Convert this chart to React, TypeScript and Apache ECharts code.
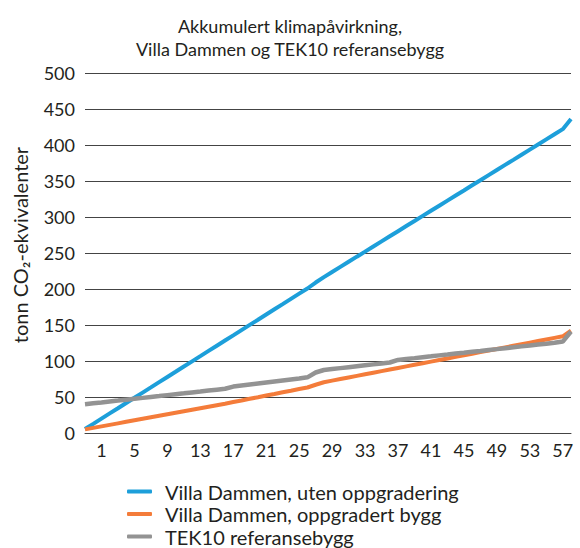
import React, { useEffect, useRef } from "react";
import * as echarts from "echarts";

const years = [-1, 0, 1, 2, 3, 4, 5, 6, 7, 8, 9, 10, 11, 12, 13, 14, 15, 16, 17, 18, 19, 20, 21, 22, 23, 24, 25, 26, 27, 28, 29, 30, 31, 32, 33, 34, 35, 36, 37, 38, 39, 40, 41, 42, 43, 44, 45, 46, 47, 48, 49, 50, 51, 52, 53, 54, 55, 56, 57, 58];

const utenOppgradering = [5.5, 12.7, 20, 27.2, 34.4, 41.7, 48.9, 56.1, 63.3, 70.6, 77.8, 85, 92.3, 99.5, 106.7, 114, 121.2, 128.4, 135.6, 142.9, 150.1, 157.3, 164.6, 171.8, 179, 186.3, 193.5, 200.7, 209, 216.5, 223.6, 230.7, 237.8, 244.9, 251.9, 259, 266.1, 273.2, 280.3, 287.4, 294.4, 301.5, 308.6, 315.7, 322.8, 329.9, 336.9, 344, 351.1, 358.2, 365.3, 372.4, 379.4, 386.5, 393.6, 400.7, 407.8, 414.9, 422, 436];

const oppgradertBygg = [5, 7.1, 9.2, 11.3, 13.4, 15.5, 17.6, 19.7, 21.8, 23.9, 26, 28.1, 30.2, 32.3, 34.4, 36.5, 38.6, 40.7, 43, 45.2, 47.5, 49.7, 52, 54.2, 56.5, 58.7, 61, 63.2, 67, 70.5, 72.7, 74.9, 77.1, 79.3, 81.5, 83.7, 85.9, 88.1, 90.3, 92.5, 94.7, 96.9, 99.1, 101.3, 103.5, 105.7, 107.9, 110.1, 112.3, 114.5, 116.7, 118.9, 121.1, 123.3, 125.5, 127.7, 129.9, 132.1, 134.3, 142];

const tek10 = [40, 41.3, 42.5, 43.8, 45, 46.3, 47.6, 48.8, 50.1, 51.3, 52.6, 53.9, 55.1, 56.4, 57.6, 58.9, 60.2, 61.4, 64.5, 65.9, 67.3, 68.7, 70.1, 71.5, 72.9, 74.3, 75.7, 77.3, 84, 87.5, 88.8, 90.1, 91.4, 92.7, 94, 95.3, 96.6, 97.9, 101.5, 102.8, 104, 105.3, 106.5, 107.8, 109, 110.3, 111.5, 112.8, 114, 115.3, 116.5, 117.8, 119, 120.3, 121.5, 122.8, 124, 125.3, 127, 141];

const seriesNames = [
  "Villa Dammen, uten oppgradering",
  "Villa Dammen, oppgradert bygg",
  "TEK10 referansebygg",
];
const colors = ["#1d9fda", "#f47c3a", "#939393"];

const FONT = "Lato";
const TEXT = "#231f20";

export default function App() {
  const ref = useRef<HTMLDivElement>(null);
  useEffect(() => {
    if (!ref.current) return;
    const chart = echarts.init(ref.current, undefined, { renderer: "svg" });
    chart.setOption({
      animation: false,
      backgroundColor: "#ffffff",
      textStyle: { fontFamily: FONT },
      title: {
        text: "Akkumulert klimapåvirkning,\nVilla Dammen og TEK10 referansebygg",
        left: "center",
        top: 9,
        textStyle: {
          fontFamily: FONT,
          fontSize: 18,
          fontWeight: "normal",
          color: TEXT,
          lineHeight: 23,
        },
      },
      grid: { left: 85, right: 9, top: 73, bottom: 115 },
      legend: {
        orient: "vertical",
        left: 127,
        top: 481,
        padding: 0,
        icon: "roundRect",
        itemWidth: 25,
        itemHeight: 4,
        itemGap: 1.5,
        data: seriesNames,
        textStyle: {
          fontFamily: FONT,
          fontSize: 20,
          color: TEXT,
          lineHeight: 21,
          padding: [0, 0, 0, 8],
        },
      },
      xAxis: {
        type: "category",
        data: years,
        boundaryGap: false,
        axisLine: { show: true, lineStyle: { color: "#444", width: 1 } },
        axisTick: { show: false },
        axisLabel: {
          interval: (index: number) => index % 4 === 2,
          fontFamily: FONT,
          fontSize: 18,
          color: TEXT,
          margin: 8,
        },
        splitLine: { show: false },
      },
      yAxis: {
        type: "value",
        min: 0,
        max: 500,
        interval: 50,
        name: "tonn CO₂-ekvivalenter",
        nameLocation: "middle",
        nameGap: 55,
        nameTextStyle: {
          fontFamily: FONT,
          fontSize: 20,
          color: TEXT,
          padding: [0, 0, 0, 16],
        },
        axisLine: { show: false },
        axisTick: { show: false },
        axisLabel: { fontFamily: FONT, fontSize: 18, color: TEXT, margin: 10 },
        splitLine: { show: true, lineStyle: { color: "#444", width: 1 } },
      },
      series: [
        {
          name: seriesNames[0],
          type: "line",
          data: utenOppgradering,
          showSymbol: false,
          symbol: "none",
          lineStyle: { color: colors[0], width: 4 },
          itemStyle: { color: colors[0] },
        },
        {
          name: seriesNames[1],
          type: "line",
          data: oppgradertBygg,
          showSymbol: false,
          symbol: "none",
          lineStyle: { color: colors[1], width: 4 },
          itemStyle: { color: colors[1] },
        },
        {
          name: seriesNames[2],
          type: "line",
          data: tek10,
          showSymbol: false,
          symbol: "none",
          lineStyle: { color: colors[2], width: 4.5 },
          itemStyle: { color: colors[2] },
        },
      ],
    });
    return () => chart.dispose();
  }, []);
  return (
    <div
      ref={ref}
      style={{ position: "fixed", left: 0, top: 0, width: 580, height: 548 }}
    />
  );
}
